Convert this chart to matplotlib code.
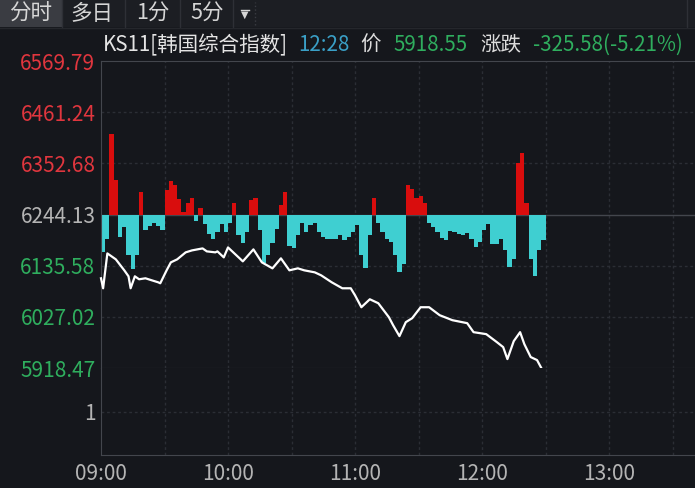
import matplotlib.pyplot as plt
import matplotlib.patches as mpatches
import numpy as np

plt.rcParams['font.family'] = ['Noto Sans CJK SC', 'DejaVu Sans']

# ---- data (minutes after 09:00) ----
price_min = [0, 1, 3, 7, 11, 13, 14, 16, 18, 21, 24, 27, 28, 31, 33, 36, 40, 43, 48, 50,
             54, 55, 58, 60, 65, 67, 72, 76, 81, 85, 89, 93, 96, 101, 104, 109, 114, 118, 120, 123,
             127, 131, 136, 138, 141, 144, 147, 151, 155, 160, 166, 173, 176, 182, 187, 190, 192, 195, 198, 200,
             203, 206, 208]
price = [6108.8, 6087.6, 6161.6, 6149.0, 6125.7, 6113.0, 6087.6, 6113.0, 6106.7, 6108.8,
         6104.5, 6100.3, 6098.2, 6125.7, 6142.6, 6149.0, 6163.8, 6168.0, 6172.2, 6165.9,
         6163.8, 6165.9, 6153.2, 6174.3, 6153.2, 6144.7, 6170.1, 6142.6, 6129.9, 6151.1,
         6125.7, 6129.9, 6125.7, 6121.4, 6115.1, 6100.3, 6087.6, 6087.6, 6072.8, 6047.4,
         6064.3, 6055.9, 6026.3, 6009.3, 5986.1, 6015.7, 6024.1, 6047.4, 6047.4, 6030.5,
         6019.9, 6013.6, 5994.5, 5990.3, 5973.4, 5962.8, 5937.4, 5975.5, 5994.5, 5969.1,
         5941.7, 5935.3, 5918.55]

# bar strength every 2 minutes, index points relative to previous close
flow = [-80, -53, 171, 74, -47, -27, -85, -116, -85, 47,
        -32, -25, -17, -25, -32, 53, 72, 63, 32, 6,
        25, 34, -13, 13, -21, -42, -53, -38, -21, -38,
        -17, 25, -44, -61, -38, 30, 34, -32, -102, -85,
        -61, -30, 21, 47, -66, -72, -44, -17, -38, -23,
        -17, -38, -47, -51, -51, -51, -44, -55, -47, -38,
        -23, -85, -114, -44, 36, -17, -38, -51, -59, -85,
        -123, -106, 63, 55, 36, 40, 25, -19, -27, -38,
        -49, -55, -34, -38, -42, -44, -40, -51, -68, -59,
        -32, -21, -63, -63, -51, -76, -112, -95, 110, 130,
        25, -95, -131, -75, -55]
flow_min = np.arange(0, 2 * len(flow), 2)

prev_close = 6244.13
y_ticks = [6569.79, 6461.24, 6352.68, 6244.13, 6135.58, 6027.02, 5918.47]
y_labels = ['6569.79', '6461.24', '6352.68', '6244.13', '6135.58', '6027.02', '5918.47']
y_colors = ['#e0363e', '#e0363e', '#e0363e', '#b4b4b4', '#2fae5e', '#2fae5e', '#2fae5e']
x_ticks = [0, 60, 120, 180, 240]
x_labels = ['09:00', '10:00', '11:00', '12:00', '13:00']
grid_min = [30, 60, 90, 120, 150, 180, 210, 240, 270]
tabs = ['分时', '多日', '1分', '5分']

BG = '#15171c'
GRID = '#2b2e35'
LINE = '#43464d'

W, H = 695, 488
fig = plt.figure(figsize=(W / 100, H / 100), dpi=100, facecolor=BG)


def fx(x):
    return x / W


def fy(y):
    return 1 - y / H


# ---- tab bar ----
fig.patches.append(mpatches.Rectangle((0, fy(27)), 1, 27 / H, transform=fig.transFigure,
                                      facecolor='#1c1e23', edgecolor='none'))
fig.patches.append(mpatches.Rectangle((0, fy(27)), 62 / W, 27 / H, transform=fig.transFigure,
                                      facecolor='#3a3c42', edgecolor='none'))
for sx in [62, 125, 180, 233, 687]:
    fig.add_artist(plt.Line2D([fx(sx), fx(sx)], [fy(27), fy(0)], color='#2e3036', lw=1))
fig.add_artist(plt.Line2D([fx(255), fx(255)], [fy(25), fy(2)], color='#3a3c42', lw=1, ls=':'))
fig.add_artist(plt.Line2D([0, 1], [fy(27.5), fy(27.5)], color='#25272c', lw=1))
for label, cx in zip(tabs, [31, 92, 153, 207]):
    fig.text(fx(cx), fy(14), label, color='#d6d6d6', fontsize=15.5, ha='center', va='center')
fig.text(fx(245), fy(14.5), '▼', color='#d6d6d6', fontsize=7, ha='center', va='center',
         family=['DejaVu Sans'])
fig.add_artist(plt.Line2D([fx(241), fx(249)], [fy(9.5), fy(9.5)], color='#d6d6d6', lw=1))

# ---- title row ----
title_parts = [('KS11[韩国综合指数]', 103, '#e4e4e4'), ('12:28', 298, '#3a9fc6'),
               ('价', 360, '#dcdcdc'), ('5918.55', 393, '#2fae5e'),
               ('涨跌', 480, '#dcdcdc'), ('-325.58(-5.21%)', 533, '#2fae5e')]
for txt, px, col in title_parts:
    fig.text(fx(px), fy(45), txt, color=col, fontsize=14.8, ha='left', va='center')

# ---- price pane ----
xmax = (W - 101) / 2.1167
ax = fig.add_axes([fx(101), fy(368), fx(W) - fx(101), (368 - 61) / H], facecolor=BG)
ax.set_xlim(0, xmax)
ax.set_ylim(5918.47, 6569.79)

for g in grid_min:
    ax.axvline(g, color=GRID, lw=1, ls=(0, (2, 2)), zorder=0)
for v in y_ticks[1:-1]:
    if v == prev_close:
        ax.axhline(v, color=LINE, lw=1, zorder=0.5)
    else:
        ax.axhline(v, color=GRID, lw=1, ls=(0, (2, 2)), zorder=0)

fcol = ['#d90d0d' if f > 0 else '#3fcfd1' for f in flow]
ax.bar(flow_min, flow, width=2, bottom=prev_close, color=fcol, align='edge', lw=0, zorder=2)
ax.plot(price_min, price, color='white', lw=1.6, zorder=3, clip_on=False)

ax.set_yticks(y_ticks)
ax.set_yticklabels(y_labels)
for lab, col in zip(ax.get_yticklabels(), y_colors):
    lab.set_color(col)
ax.tick_params(axis='y', length=0, pad=4, labelsize=15)
ax.set_xticks([])
for s in ['top', 'bottom', 'left']:
    ax.spines[s].set_color(LINE)
ax.spines['right'].set_visible(False)

# ---- lower pane ----
ax2 = fig.add_axes([fx(101), fy(455), fx(W) - fx(101), (455 - 368) / H], facecolor=BG)
ax2.set_xlim(0, xmax)
ax2.set_ylim(0, 2)
for g in grid_min:
    ax2.axvline(g, color=GRID, lw=1, ls=(0, (2, 2)), zorder=0)
ax2.axhline(1, color=GRID, lw=1, ls=(0, (2, 2)), zorder=0)
ax2.set_yticks([1])
ax2.set_yticklabels(['1'])
ax2.set_xticks(x_ticks)
ax2.set_xticklabels(x_labels)
ax2.tick_params(axis='y', length=0, pad=4, labelsize=15, colors='#b4b4b4')
ax2.tick_params(axis='x', length=0, pad=6, labelsize=15, colors='#b4b4b4')
for s in ['bottom', 'left']:
    ax2.spines[s].set_color(LINE)
ax2.spines['top'].set_visible(False)
ax2.spines['right'].set_visible(False)

fig.savefig('out.png', dpi=100, facecolor=BG)
